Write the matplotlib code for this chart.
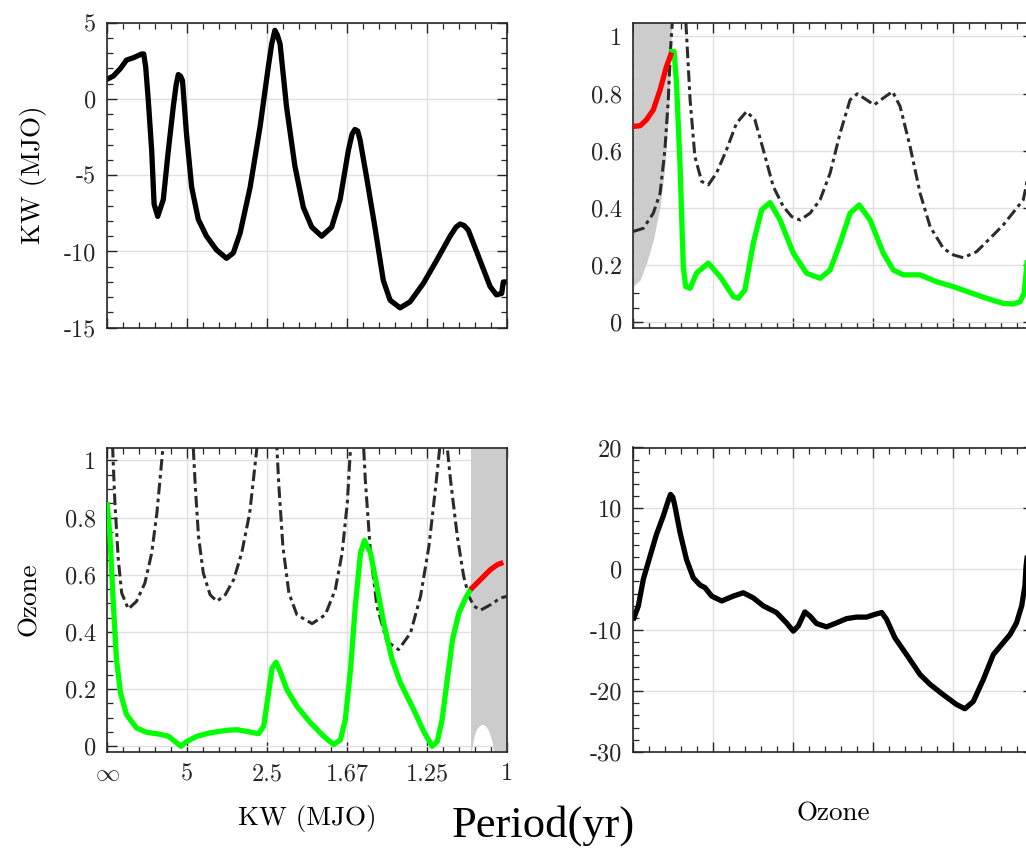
import numpy as np
import matplotlib
matplotlib.use("Agg")
import matplotlib.pyplot as plt
from matplotlib.ticker import MultipleLocator

plt.rcParams['font.family'] = ['cmr10', 'DejaVu Sans']
plt.rcParams['mathtext.fontset'] = 'cm'
plt.rcParams['axes.unicode_minus'] = False

# 周波数 (cycles/yr) と目盛り
freq_ticks = [0, 0.2, 0.4, 0.6, 0.8, 1.0]
period_labels = [r'$\infty$', '5', '2.5', '1.67', '1.25', '1']

# KW (MJO) スペクトル
kw_f = [0, 0.015, 0.033, 0.048, 0.065, 0.086, 0.091, 0.096, 0.1025, 0.111, 0.117, 0.126, 0.14,
        0.1525, 0.165, 0.172, 0.1775, 0.183, 0.188, 0.198, 0.211, 0.2275, 0.248, 0.273, 0.298,
        0.315, 0.332, 0.357, 0.382, 0.4025, 0.411, 0.419, 0.425, 0.432, 0.448, 0.469, 0.49,
        0.511, 0.536, 0.561, 0.582, 0.6025, 0.612, 0.619, 0.626, 0.632, 0.648, 0.669, 0.69,
        0.707, 0.732, 0.757, 0.79, 0.823, 0.857, 0.872, 0.882, 0.892, 0.9025, 0.932, 0.957,
        0.973, 0.986, 0.99, 1.0]
kw_db = [1.3, 1.5, 2.0, 2.55, 2.7, 2.95, 2.95, 2.1, -0.1, -3.4, -6.9, -7.7, -6.6,
         -3.4, -0.5, 0.9, 1.6, 1.5, 1.2, -2.3, -5.8, -7.9, -9.0, -9.9, -10.45,
         -10.1, -8.8, -5.8, -1.8, 2.1, 3.6, 4.5, 4.2, 3.6, -0.5, -4.4, -7.1,
         -8.4, -9.0, -8.4, -6.6, -3.4, -2.3, -2.0, -2.1, -2.7, -5.1, -8.4, -11.9,
         -13.2, -13.7, -13.3, -12.1, -10.6, -9.0, -8.4, -8.2, -8.3, -8.6, -10.6, -12.3,
         -12.85, -12.75, -12.0, -12.0]

# Ozone スペクトル
oz_f = [0.0017, 0.0125, 0.025, 0.042, 0.058, 0.075, 0.086, 0.093, 0.099, 0.104, 0.117, 0.133,
        0.15, 0.167, 0.179, 0.196, 0.221, 0.25, 0.275, 0.3, 0.325, 0.358, 0.383, 0.4, 0.4125,
        0.429, 0.442, 0.458, 0.483, 0.508, 0.533, 0.558, 0.583, 0.604, 0.621, 0.633, 0.654,
        0.683, 0.717, 0.742, 0.775, 0.808, 0.829, 0.85, 0.875, 0.9, 0.921, 0.942, 0.958,
        0.971, 0.979, 0.982, 0.99]
oz_db = [-7.96, -6.04, -1.66, 2.18, 5.75, 8.76, 11.0, 12.3, 11.8, 10.4, 6.0, 1.6,
         -1.4, -2.6, -3.0, -4.4, -5.2, -4.4, -3.85, -4.7, -6.0, -7.1, -8.8, -10.15, -9.3,
         -7.0, -7.7, -8.9, -9.45, -8.8, -8.1, -7.85, -7.85, -7.4, -7.1, -8.2, -11.25,
         -14.0, -17.3, -18.9, -20.6, -22.2, -22.9, -21.7, -18.1, -14.0, -12.35, -10.7, -8.8,
         -6.0, -2.75, 0.55, 5.0]

# KW (MJO) x Ozone コヒーレンス (上右)
coh_tr_f = [0.096, 0.102, 0.108, 0.117, 0.125, 0.131, 0.142, 0.158, 0.1875, 0.217, 0.25, 0.2625,
            0.279, 0.3, 0.321, 0.342, 0.367, 0.4, 0.433, 0.467, 0.492, 0.517, 0.542, 0.565,
            0.592, 0.625, 0.65, 0.675, 0.717, 0.758, 0.8, 0.842, 0.883, 0.925, 0.95, 0.967,
            0.977, 0.982, 0.99]
coh_tr = [0.947, 0.947, 0.836, 0.544, 0.194, 0.124, 0.118, 0.171, 0.206, 0.159, 0.089, 0.083,
          0.112, 0.276, 0.393, 0.418, 0.357, 0.241, 0.171, 0.153, 0.182, 0.276, 0.381, 0.41,
          0.357, 0.241, 0.182, 0.165, 0.165, 0.141, 0.124, 0.103, 0.083, 0.065, 0.063, 0.071,
          0.1, 0.171, 0.3]
sig_tr_f = [0, 0.017, 0.033, 0.05, 0.067, 0.083, 0.096]
sig_tr = [0.685, 0.687, 0.708, 0.743, 0.813, 0.895, 0.944]
lvl_tr_f = [0, 0.025, 0.05, 0.067, 0.079, 0.0875, 0.093, 0.098, 0.115, 0.131, 0.142, 0.154,
            0.171, 0.1875, 0.208, 0.233, 0.258, 0.283, 0.304, 0.325, 0.35, 0.375, 0.396,
            0.417, 0.442, 0.467, 0.492, 0.517, 0.542, 0.56, 0.583, 0.602, 0.625, 0.648,
            0.667, 0.692, 0.717, 0.742, 0.775, 0.8, 0.825, 0.858, 0.892, 0.925, 0.958,
            0.975, 0.982, 0.99]
lvl_tr = [0.317, 0.328, 0.381, 0.451, 0.603, 0.778, 0.953, 1.06, 1.4, 1.06, 0.778, 0.579,
          0.492, 0.48, 0.521, 0.603, 0.696, 0.737, 0.708, 0.603, 0.474, 0.404, 0.369,
          0.357, 0.381, 0.428, 0.521, 0.661, 0.778, 0.799, 0.778, 0.76, 0.784, 0.807,
          0.755, 0.614, 0.451, 0.334, 0.258, 0.235, 0.225, 0.246, 0.293, 0.34, 0.398,
          0.428, 0.474, 0.55]
shade_tr_f = [0, 0.017, 0.033, 0.05, 0.067, 0.079, 0.0875, 0.093, 0.096]
shade_tr = [0.126, 0.147, 0.206, 0.287, 0.404, 0.544, 0.72, 0.895, 1.05]

# Ozone x KW (MJO) コヒーレンス (下左)
coh_bl_f = [0, 0.0067, 0.015, 0.023, 0.033, 0.048, 0.073, 0.098, 0.128, 0.153, 0.169, 0.184,
            0.199, 0.224, 0.257, 0.299, 0.324, 0.349, 0.378, 0.391, 0.403, 0.412, 0.422,
            0.432, 0.449, 0.474, 0.508, 0.541, 0.566, 0.583, 0.595, 0.608, 0.62, 0.633, 0.643,
            0.658, 0.674, 0.691, 0.712, 0.733, 0.766, 0.791, 0.812, 0.825, 0.837, 0.85, 0.863,
            0.879, 0.896, 0.908]
coh_bl = [0.845, 0.734, 0.501, 0.303, 0.186, 0.111, 0.064, 0.049, 0.043, 0.035, 0.017, 0.0,
          0.017, 0.035, 0.047, 0.056, 0.058, 0.052, 0.044, 0.07, 0.186, 0.274, 0.294,
          0.262, 0.198, 0.14, 0.082, 0.035, 0.006, 0.023, 0.093, 0.268, 0.49, 0.676, 0.72,
          0.676, 0.559, 0.431, 0.303, 0.221, 0.128, 0.052, 0.0, 0.017, 0.093, 0.233, 0.373,
          0.466, 0.519, 0.548]
sig_bl_f = [0.908, 0.933, 0.958, 0.975, 0.99]
sig_bl = [0.548, 0.583, 0.618, 0.635, 0.643]
lvl_bl_f = [0, 0.0134, 0.019, 0.0275, 0.036, 0.0526, 0.073, 0.094, 0.111, 0.124, 0.134, 0.139,
            0.177, 0.215, 0.22, 0.228, 0.24, 0.257, 0.274, 0.295, 0.316, 0.336, 0.356, 0.368,
            0.374, 0.399, 0.424, 0.429, 0.439, 0.454, 0.474, 0.512, 0.545, 0.57, 0.587, 0.6,
            0.608, 0.625, 0.641, 0.645, 0.658, 0.674, 0.699, 0.728, 0.758, 0.783, 0.804,
            0.821, 0.831, 0.84, 0.85, 0.858, 0.875, 0.891, 0.904, 0.917, 0.933, 0.958, 0.983,
            0.998]
lvl_bl = [1.3, 1.043, 0.851, 0.653, 0.536, 0.48, 0.507, 0.571, 0.676, 0.816, 0.967, 1.043,
          1.5, 1.043, 0.909, 0.734, 0.606, 0.53, 0.507, 0.53, 0.583, 0.676, 0.816, 0.967,
          1.043, 1.5, 1.043, 0.909, 0.699, 0.536, 0.46, 0.429, 0.46, 0.548, 0.676, 0.851,
          1.043, 1.5, 1.043, 0.932, 0.676, 0.49, 0.367, 0.338, 0.396, 0.524, 0.699,
          0.909, 1.043, 1.1, 1.043, 0.932, 0.734, 0.594, 0.524, 0.49, 0.476, 0.495, 0.519,
          0.524]
shade_bl_f = [0.908, 0.912, 0.917, 0.922, 0.93, 0.937, 0.945, 0.952, 0.958, 0.963, 0.966, 1.0]
shade_bl = [-0.03, 0.0, 0.035, 0.057, 0.072, 0.077, 0.072, 0.058, 0.035, 0.01, -0.03, -0.03]

W, H = 1026, 849
fig = plt.figure(figsize=(W / 100, H / 100), dpi=100)

def px_axes(x0, y0, x1, y1):
    return fig.add_axes([x0 / W, 1 - y1 / H, (x1 - x0) / W, (y1 - y0) / H])

ax_tl = px_axes(107.3, 22.7, 507.3, 327.7)
ax_tr = px_axes(633.3, 22.7, 1033.3, 327.7)
ax_bl = px_axes(107.3, 447.5, 507.3, 752.0)
ax_br = px_axes(633.3, 447.5, 1033.3, 752.0)

tick_fs = 17.5
label_fs = 19.5
dash_style = (0, (3.8, 1.4, 1.2, 1.4))
dash_col = '#2b2b2b'

def style(ax, yticks, ylabels, yminor, ylim):
    ax.set_xlim(0, 1)
    ax.set_ylim(*ylim)
    ax.set_xticks(freq_ticks)
    ax.xaxis.set_minor_locator(MultipleLocator(0.04))
    ax.set_yticks(yticks)
    ax.set_yticklabels(ylabels, fontsize=tick_fs, color='#262626')
    ax.yaxis.set_minor_locator(MultipleLocator(yminor))
    ax.tick_params(which='both', direction='in', top=True, right=True, color='#262626')
    ax.tick_params(which='major', length=7, width=1.0, pad=8)
    ax.tick_params(which='minor', length=4, width=0.9)
    ax.grid(True, which='major', color='#e0e0e0', lw=1.0)
    ax.set_axisbelow(True)
    for s in ax.spines.values():
        s.set_color('#262626')
        s.set_linewidth(1.2)
    ax.set_xticklabels([])

# 上左: KW (MJO)
style(ax_tl, [5, 0, -5, -10, -15], ['5', '0', '-5', '-10', '-15'], 1, (-15, 5))
ax_tl.plot(kw_f, kw_db, color='black', lw=3.8, solid_joinstyle='round')
ax_tl.set_ylabel('KW (MJO)', fontsize=label_fs, labelpad=12)

# 上右: コヒーレンス
style(ax_tr, [0, 0.2, 0.4, 0.6, 0.8, 1], ['0', '0.2', '0.4', '0.6', '0.8', '1'], 0.05, (-0.02, 1.048))
ax_tr.fill_between(shade_tr_f, shade_tr, 1.2, color='#cccccc', lw=0, zorder=1)
ax_tr.plot(lvl_tr_f, lvl_tr, color=dash_col, lw=2.2, ls=dash_style, zorder=2)
ax_tr.plot(coh_tr_f, coh_tr, color='#00ff00', lw=3.8, zorder=3, solid_joinstyle='round')
ax_tr.plot(sig_tr_f, sig_tr, color='#ff0000', lw=3.8, zorder=4, solid_capstyle='butt')

# 下左: コヒーレンス
style(ax_bl, [0, 0.2, 0.4, 0.6, 0.8, 1], ['0', '0.2', '0.4', '0.6', '0.8', '1'], 0.05, (-0.02, 1.045))
ax_bl.fill_between(shade_bl_f, shade_bl, 1.2, color='#cccccc', lw=0, zorder=1)
ax_bl.plot(lvl_bl_f, lvl_bl, color=dash_col, lw=2.2, ls=dash_style, zorder=2)
ax_bl.plot(coh_bl_f, coh_bl, color='#00ff00', lw=3.8, zorder=3, solid_joinstyle='round')
ax_bl.plot(sig_bl_f, sig_bl, color='#ff0000', lw=3.8, zorder=4, solid_capstyle='butt')
ax_bl.set_xticklabels(period_labels, fontsize=tick_fs, color='#262626')
ax_bl.set_ylabel('Ozone', fontsize=label_fs, labelpad=17)
ax_bl.set_xlabel('KW (MJO)', fontsize=label_fs, labelpad=14)

# 下右: Ozone
style(ax_br, [20, 10, 0, -10, -20, -30], ['20', '10', '0', '-10', '-20', '-30'], 2, (-30, 20))
ax_br.plot(oz_f, oz_db, color='black', lw=3.8, solid_joinstyle='round')
ax_br.set_xlabel('Ozone', fontsize=label_fs, labelpad=28)

fig.text(0.53, 0.028, 'Period(yr)', fontsize=32, family='Liberation Serif',
         ha='center', va='center')

fig.savefig('out.png', dpi=100)
